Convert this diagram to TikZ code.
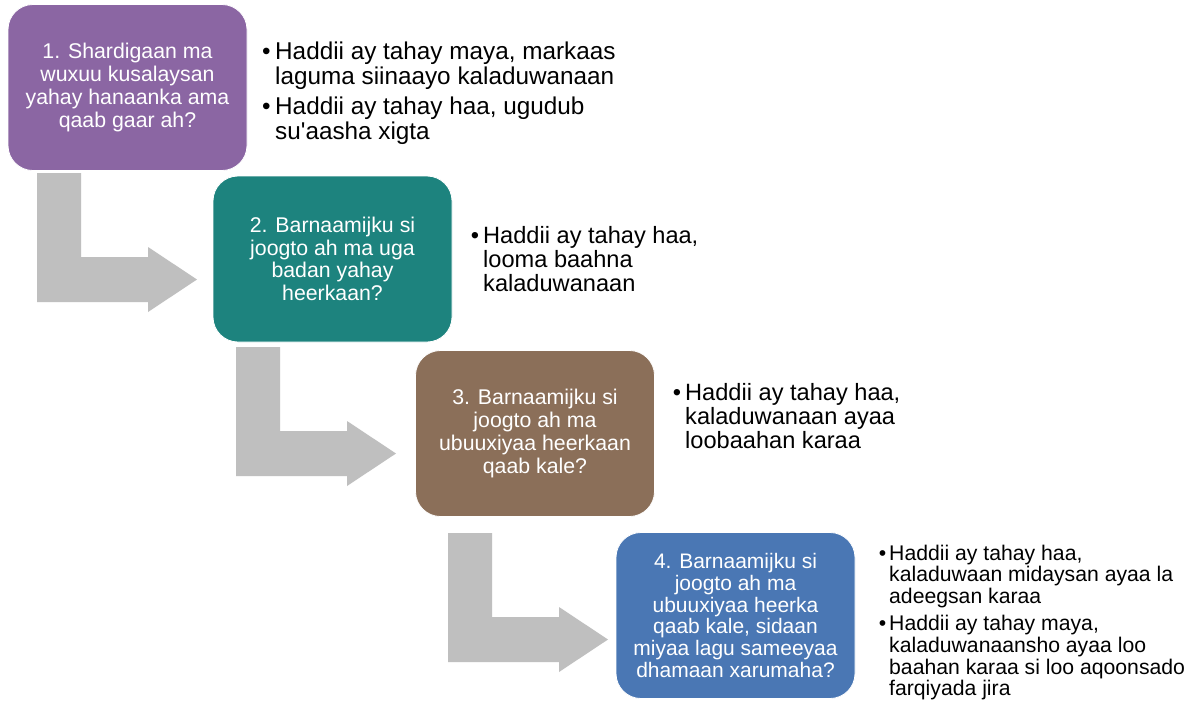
\documentclass[tikz,border=0pt]{standalone}
\usepackage{fontspec}
\setmainfont{Liberation Sans}
% plain family without TeX ligature mapping, so ' stays straight
\newfontfamily\arial{Liberation Sans}
\usetikzlibrary{calc}

\definecolor{stepone}{HTML}{8B66A3}
\definecolor{steptwo}{HTML}{1D837E}
\definecolor{stepthree}{HTML}{8B6F59}
\definecolor{stepfour}{HTML}{4A77B4}
\definecolor{arrowgrey}{HTML}{BFBFBF}

\newcommand{\bul}[1]{\llap{•\hspace{#1}}}

\begin{document}
\begin{tikzpicture}[x=1pt,y=-1pt,
  stepbox/.style={rounded corners=25pt, minimum width=239pt, minimum height=166pt,
    inner sep=0pt, align=center, text=white, draw=white, line width=0.8pt,
    font=\arial\fontsize{21.3}{22.7}\selectfont},
  notes/.style={anchor=base west, inner sep=0pt, text=black},
  bentarrow/.pic={
    \fill[arrowgrey] (0,0) -- (44,0) -- (44,84) -- (111,84) -- (111,74)
      -- (160,106.5) -- (111,139) -- (111,129) -- (0,129) -- cycle;
  }]

\fill[white] (0,0) rectangle (1191,702);
\useasboundingbox (0,0) rectangle (1191,702);

% bent arrows leading from one step to the next
\pic at (37,173) {bentarrow};
\pic at (236,347) {bentarrow};
\pic at (448,533) {bentarrow};

% step boxes
\node[stepbox, fill=stepone] (b1) at (127.5,87.5)
  {1. Shardigaan ma\\wuxuu kusalaysan\\yahay hanaanka ama\\qaab gaar ah?};
\node[stepbox, fill=steptwo] (b2) at (332.5,259)
  {2. Barnaamijku si\\joogto ah ma uga\\badan yahay\\heerkaan?};
\node[stepbox, fill=stepthree] (b3) at (535,433.5)
  {3. Barnaamijku si\\joogto ah ma\\ubuuxiyaa heerkaan\\qaab kale?};
\node[stepbox, fill=stepfour, font=\arial\fontsize{21}{21.7}\selectfont] (b4) at (735.5,615.5)
  {4. Barnaamijku si\\joogto ah ma\\ubuuxiyaa heerka\\qaab kale, sidaan\\miyaa lagu sameeyaa\\dhamaan xarumaha?};

% notes beside each step
\node[notes] (n1) at (275,59) {\arial\fontsize{24.3}{25}\selectfont
  \begin{tabular}[t]{@{}l@{}}
  \bul{4.5pt}Haddii ay tahay maya, markaas\\
  laguma siinaayo kaladuwanaan\\[5pt]
  \bul{4.5pt}Haddii ay tahay haa, ugudub\\
  su'aasha xigta
  \end{tabular}};
\node[notes] (n2) at (483,243) {\arial\fontsize{23.6}{23.3}\selectfont
  \begin{tabular}[t]{@{}l@{}}
  \bul{4pt}Haddii ay tahay haa,\\
  looma baahna\\
  kaladuwanaan
  \end{tabular}};
\node[notes] (n3) at (685,400) {\arial\fontsize{23.6}{23.3}\selectfont
  \begin{tabular}[t]{@{}l@{}}
  \bul{4pt}Haddii ay tahay haa,\\
  kaladuwanaan ayaa\\
  loobaahan karaa
  \end{tabular}};
\node[notes] (n4) at (889,560) {\arial\fontsize{21.2}{21.8}\selectfont
  \begin{tabular}[t]{@{}l@{}}
  \bul{3pt}Haddii ay tahay haa,\\
  kaladuwaan midaysan ayaa la\\
  adeegsan karaa\\[4.5pt]
  \bul{3pt}Haddii ay tahay maya,\\
  kaladuwanaansho ayaa loo\\
  baahan karaa si loo aqoonsado\\
  farqiyada jira
  \end{tabular}};
\end{tikzpicture}
\end{document}
